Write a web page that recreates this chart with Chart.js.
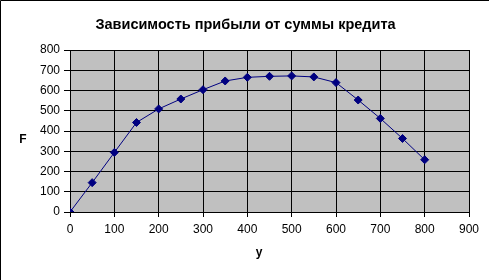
<!DOCTYPE html>
<html>
<head>
<meta charset="utf-8">
<script src="https://cdn.jsdelivr.net/npm/chart.js@4/dist/chart.umd.min.js"></script>
<style>
  html, body { margin: 0; padding: 0; background: #fff; }
  canvas { display: block; }
</style>
</head>
<body>
<canvas id="c" width="489" height="280"></canvas>
<script>
const titleText = "Зависимость прибыли от суммы кредита";
const xAxisTitle = "y";
const yAxisTitle = "F";
const creditSums = [0, 50, 100, 150, 200, 250, 300, 350, 400, 450, 500, 550, 600, 650, 700, 750, 800];
const profitValues = [0, 145, 294, 442, 509, 558, 604, 647, 665, 670, 672, 667, 639, 553, 462, 363, 258];
const xTicks = [0, 100, 200, 300, 400, 500, 600, 700, 800, 900];
const yTicks = [0, 100, 200, 300, 400, 500, 600, 700, 800];

const FONT = "'Liberation Sans', Arial, sans-serif";

const framePlugin = {
  id: 'frame',
  beforeDraw(chart) {
    const { ctx, chartArea: a } = chart;
    ctx.save();
    ctx.fillStyle = '#ffffff';
    ctx.fillRect(0, 0, chart.width, chart.height);
    ctx.fillStyle = '#c0c0c0';
    ctx.fillRect(a.left, a.top, a.right - a.left, a.bottom - a.top);
    ctx.strokeStyle = '#000';
    ctx.lineWidth = 1;
    ctx.beginPath();
    ctx.moveTo(0.5, chart.height);
    ctx.lineTo(0.5, 0.5);
    ctx.lineTo(chart.width, 0.5);
    ctx.stroke();
    ctx.restore();
  },
  afterDraw(chart) {
    const { ctx } = chart;
    ctx.save();
    ctx.fillStyle = '#000';
    ctx.textAlign = 'center';
    ctx.font = "bold 14.5px " + FONT;
    ctx.textBaseline = 'alphabetic';
    ctx.fillText(titleText, 245.5, 28.5);
    ctx.font = "bold 12px " + FONT;
    ctx.textBaseline = 'middle';
    ctx.fillText(yAxisTitle, 23, 140);
    ctx.fillText(xAxisTitle, 259, 253);
    ctx.restore();
  }
};

new Chart(document.getElementById('c'), {
  type: 'line',
  data: {
    datasets: [{
      data: creditSums.map((x, i) => ({ x: x, y: profitValues[i] })),
      borderColor: '#000080',
      backgroundColor: '#000080',
      borderWidth: 1,
      pointStyle: 'rectRot',
      pointRadius: 4,
      pointBorderWidth: 1,
      pointBackgroundColor: '#000080',
      pointBorderColor: '#000080',
      tension: 0,
      fill: false
    }]
  },
  options: {
    responsive: false,
    animation: false,
    devicePixelRatio: 1,
    layout: { padding: { left: 0, right: 20, top: 50, bottom: 0 } },
    plugins: {
      legend: { display: false },
      tooltip: { enabled: false },
      title: { display: false }
    },
    scales: {
      x: {
        type: 'linear',
        min: 0, max: 900,
        afterFit(scale) { scale.height = 68; },
        afterBuildTicks(scale) { scale.ticks = xTicks.map(v => ({ value: v })); },
        ticks: { color: '#000', font: { family: FONT, size: 12 }, padding: 5, maxRotation: 0 },
        grid: { color: '#000', lineWidth: 1, tickLength: 5, tickColor: '#000' },
        border: { color: '#000', width: 1 }
      },
      y: {
        type: 'linear',
        min: 0, max: 800,
        afterFit(scale) { scale.width = 70; },
        afterBuildTicks(scale) { scale.ticks = yTicks.map(v => ({ value: v })); },
        ticks: { color: '#000', font: { family: FONT, size: 12 }, padding: 4 },
        grid: { color: '#000', lineWidth: 1, tickLength: 6, tickColor: '#000' },
        border: { color: '#000', width: 1 }
      }
    }
  },
  plugins: [framePlugin]
});
</script>
</body>
</html>
